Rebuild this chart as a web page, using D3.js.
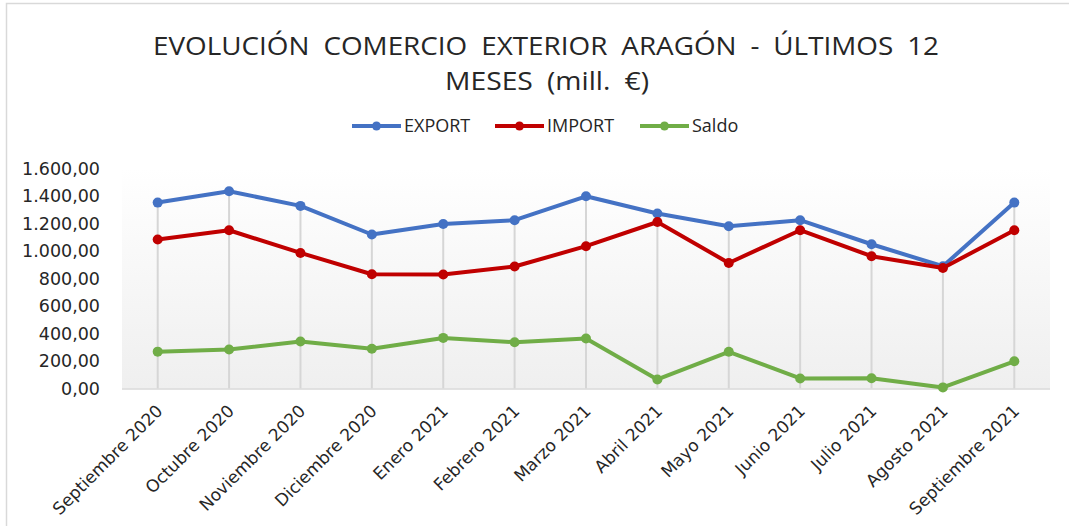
<!DOCTYPE html>
<html>
<head>
<meta charset="utf-8">
<script src="https://cdn.jsdelivr.net/npm/d3@7"></script>
<style>
  body { margin: 0; background: #fff; }
  svg text { fill: #262626; }
</style>
</head>
<body>
<div id="chart"></div>
<script>
const width = 1069;
const height = 526;

const months = ['Septiembre 2020', 'Octubre 2020', 'Noviembre 2020', 'Diciembre 2020', 'Enero 2021',
    'Febrero 2021', 'Marzo 2021', 'Abril 2021', 'Mayo 2021', 'Junio 2021', 'Julio 2021',
    'Agosto 2021', 'Septiembre 2021'];
const exportValues = [1352, 1434, 1328, 1120, 1197, 1224, 1398, 1273, 1180, 1224, 1049, 889, 1352];
const importValues = [1084, 1151, 986, 831, 829, 887, 1035, 1211, 913, 1151, 962, 877, 1151];
const saldoValues = [268, 283, 342, 289, 368, 337, 363, 66, 267, 73, 75, 8, 198];
const yTicks = [0, 200, 400, 600, 800, 1000, 1200, 1400, 1600];
const seriesNames = ['EXPORT', 'IMPORT', 'Saldo'];
const seriesColors = ['#4472C4', '#C00000', '#70AD47'];

const series = [exportValues, importValues, saldoValues].map((values, i) => ({
    name: seriesNames[i],
    color: seriesColors[i],
    points: values.map((v, j) => ({ month: months[j], value: v }))
}));

const plot = { left: 122, right: 1050, top: 168.5, bottom: 388.5 };

const svg = d3.select('#chart')
    .append('svg')
    .attr('width', width)
    .attr('height', height);

// chart border (only top and left visible in the crop)
svg.append('path')
    .attr('d', `M6.5,${height} V3.5 H${width}`)
    .attr('fill', 'none')
    .attr('stroke', '#d9d9d9')
    .attr('stroke-width', 1.5);

const xScale = d3.scalePoint()
    .domain(months)
    .range([plot.left, plot.right])
    .padding(0.5);

const yScale = d3.scaleLinear()
    .domain([0, 1600])
    .range([plot.bottom, plot.top]);

// plot area gradient
const grad = svg.append('defs').append('linearGradient')
    .attr('id', 'plotbg')
    .attr('x1', 0).attr('y1', 0).attr('x2', 0).attr('y2', 1);
grad.append('stop').attr('offset', '0%').attr('stop-color', '#ffffff');
grad.append('stop').attr('offset', '100%').attr('stop-color', '#efefef');

svg.append('rect')
    .attr('x', plot.left)
    .attr('y', plot.top)
    .attr('width', plot.right - plot.left)
    .attr('height', plot.bottom - plot.top)
    .attr('fill', 'url(#plotbg)');

// title
const title = svg.append('text')
    .attr('text-anchor', 'middle')
    .style('font-family', '"Open Sans", sans-serif')
    .style('font-size', '25px')
    .style('word-spacing', '6px');
title.append('tspan')
    .attr('x', 546).attr('y', 55)
    .attr('textLength', 786)
    .attr('lengthAdjust', 'spacingAndGlyphs')
    .text('EVOLUCIÓN COMERCIO EXTERIOR ARAGÓN - ÚLTIMOS 12');
title.append('tspan')
    .attr('x', 547).attr('y', 90)
    .attr('textLength', 204)
    .attr('lengthAdjust', 'spacingAndGlyphs')
    .text('MESES (mill. €)');

// legend
const legendX = [352, 495, 640];
const legend = svg.append('g')
    .selectAll('g')
    .data(series)
    .join('g')
    .attr('transform', (d, i) => `translate(${legendX[i]}, 126)`);
legend.append('line')
    .attr('x1', 0).attr('x2', 49)
    .attr('stroke', d => d.color)
    .attr('stroke-width', 4);
legend.append('circle')
    .attr('cx', 24.5).attr('r', 4.5)
    .attr('fill', d => d.color);
legend.append('text')
    .attr('x', 52)
    .attr('dy', '0.35em')
    .style('font-family', '"Open Sans", sans-serif')
    .style('font-size', '18px')
    .text(d => d.name);

// y axis labels
const esLocale = d3.formatLocale({ decimal: ',', thousands: '.', grouping: [3], currency: ['', '€'] });
const yAxis = d3.axisLeft(yScale)
    .tickValues(yTicks)
    .tickSize(0)
    .tickPadding(0)
    .tickFormat(esLocale.format(',.2f'));
svg.append('g')
    .attr('transform', 'translate(100, 0)')
    .call(yAxis)
    .call(g => g.select('.domain').remove())
    .selectAll('text')
    .style('font-family', '"DejaVu Sans", sans-serif')
    .style('font-size', '17.5px')
    .attr('fill', '#262626');

// drop lines
svg.append('g')
    .selectAll('line')
    .data(months)
    .join('line')
    .attr('x1', d => xScale(d))
    .attr('x2', d => xScale(d))
    .attr('y1', (d, i) => yScale(d3.max(series, s => s.points[i].value)))
    .attr('y2', plot.bottom)
    .attr('stroke', '#d6d6d6')
    .attr('stroke-width', 2);

// x axis line
svg.append('line')
    .attr('x1', plot.left).attr('x2', plot.right)
    .attr('y1', plot.bottom + 0.5).attr('y2', plot.bottom + 0.5)
    .attr('stroke', '#d9d9d9')
    .attr('stroke-width', 1.5);

// x labels
svg.append('g')
    .selectAll('text')
    .data(months)
    .join('text')
    .attr('transform', d => `translate(${xScale(d) + 6}, 412) rotate(-45)`)
    .attr('text-anchor', 'end')
    .style('font-family', '"DejaVu Sans", sans-serif')
    .style('font-size', '17px')
    .text(d => d);

// lines and markers
const line = d3.line()
    .x(d => xScale(d.month))
    .y(d => yScale(d.value));

const seriesG = svg.append('g')
    .selectAll('g')
    .data(series)
    .join('g');

seriesG.append('path')
    .attr('d', d => line(d.points))
    .attr('fill', 'none')
    .attr('stroke', d => d.color)
    .attr('stroke-width', 4)
    .attr('stroke-linejoin', 'round');

seriesG.selectAll('circle')
    .data(d => d.points.map(p => ({ ...p, color: d.color })))
    .join('circle')
    .attr('cx', d => xScale(d.month))
    .attr('cy', d => yScale(d.value))
    .attr('r', 5)
    .attr('fill', d => d.color);
</script>
</body>
</html>
